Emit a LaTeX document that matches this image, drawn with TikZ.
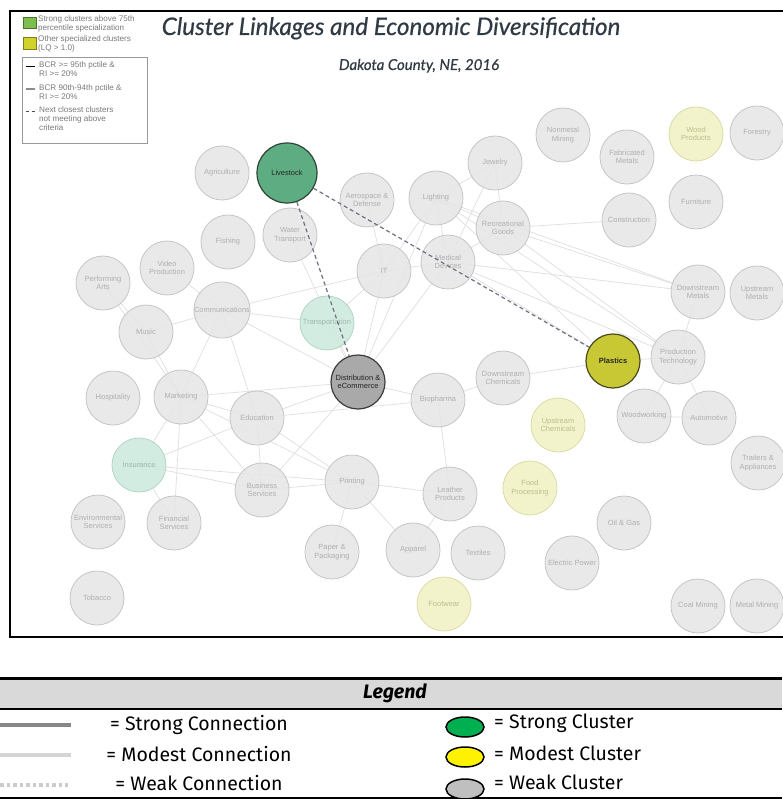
\documentclass[tikz,border=0pt]{standalone}
\usepackage{fontspec}
\setmainfont{Liberation Sans}
\newfontfamily\latofont[FakeBold=0.5]{Lato}
\newfontfamily\firafont{Fira Sans}
\usetikzlibrary{backgrounds,shapes.geometric}
\definecolor{nodegray}{HTML}{E6E6E6}
\definecolor{nodeedge}{HTML}{C6C6C6}
\definecolor{nodetext}{HTML}{AFAFAF}
\definecolor{lgfill}{HTML}{CFEADE}
\definecolor{lgedge}{HTML}{B3D6C5}
\definecolor{lgtext}{HTML}{9AB8AA}
\definecolor{lyfill}{HTML}{F2F2C6}
\definecolor{lyedge}{HTML}{DCDCA4}
\definecolor{lytext}{HTML}{BDBD8E}
\definecolor{livefill}{HTML}{5EAD82}
\definecolor{liveedge}{HTML}{2E4436}
\definecolor{plastfill}{HTML}{C8C834}
\definecolor{plastedge}{HTML}{4A4A1E}
\definecolor{distfill}{HTML}{A9A9A9}
\definecolor{distedge}{HTML}{3C3C3C}
\definecolor{linkgray}{HTML}{DFDFDF}
\definecolor{dashgray}{HTML}{6E7180}
\definecolor{titlecol}{HTML}{2F3A44}
\definecolor{smalltext}{HTML}{7A7A7A}
\definecolor{legband}{HTML}{D9D9D9}
\definecolor{keygreen}{HTML}{7DBE4E}
\definecolor{keyyellow}{HTML}{D2D22C}
\tikzset{
  cl/.style={circle, minimum size=54pt, inner sep=0pt, align=center,
    font=\fontsize{7.5}{8.5}\selectfont, line width=0.8pt, text opacity=1},
  gr/.style={cl, fill=nodegray, draw=nodeedge, text=nodetext, fill opacity=0.85},
  lg/.style={cl, fill=lgfill, draw=lgedge, text=lgtext, fill opacity=0.9},
  ly/.style={cl, fill=lyfill, draw=lyedge, text=lytext, fill opacity=0.9},
  strongnode/.style={cl, line width=1.2pt, text=black!85},
  link/.style={draw=linkgray, line width=0.7pt},
  weaklink/.style={draw=dashgray, line width=1.2pt, dash pattern=on 4pt off 3pt},
  smalltxt/.style={anchor=west, inner sep=0pt, text=smalltext, font=\fontsize{8.1}{9.2}\selectfont},
  legtxt/.style={inner sep=0pt, font=\firafont\fontsize{19.5}{22}\selectfont},
  legell/.style={ellipse, draw=black, line width=1.5pt, minimum width=38pt, minimum height=20pt, inner sep=0pt},
}
\pgfdeclarelayer{background}
\pgfdeclarelayer{canvas}
\pgfsetlayers{canvas,background,main}
\begin{document}
\begin{tikzpicture}[x=1pt, y=-1pt]
\useasboundingbox (0,0) rectangle (782,799);
\begin{pgfonlayer}{canvas}
\fill[white] (0,0) rectangle (782,799);
\end{pgfonlayer}
% frame of the diagram
\draw[line width=1.6pt] (10,11) rectangle (795,637);
% title
\node[anchor=base, inner sep=0pt, text=titlecol, font=\latofont\itshape\fontsize{24.2}{27}\selectfont] (title) at (391,35) {Cluster Linkages and Economic Diversification};
\node[anchor=base, inner sep=0pt, text=titlecol, font=\latofont\itshape\fontsize{15}{17}\selectfont] (subtitle) at (419,70) {Dakota County, NE, 2016};
% top-left key
\node[draw=keygreen!60!black, fill=keygreen, minimum width=13pt, minimum height=11pt, inner sep=0pt] (sqg) at (30,22.5) {};
\node[draw=keyyellow!60!black, fill=keyyellow, minimum width=13pt, minimum height=12pt, inner sep=0pt] (sqy) at (30,43) {};
\node[smalltxt, align=left, anchor=north west] (kg) at (38,15) {Strong clusters above 75th\\percentile specialization};
\node[smalltxt, align=left, anchor=north west] (ky) at (38,35.5) {Other specialized clusters\\(LQ > 1.0)};
\node[draw=black!40, line width=0.6pt, minimum width=125pt, minimum height=86pt, inner sep=0pt] (kbox) at (84.5,100) {};
\coordinate (k1a) at (26,66.5); \coordinate (k1b) at (35,66.5);
\coordinate (k2a) at (26,89); \coordinate (k2b) at (35,89);
\coordinate (k3a) at (26,111.5); \coordinate (k3b) at (36,111.5);
\draw[black, line width=1.2pt] (k1a) -- (k1b);
\draw[black!45, line width=1.2pt] (k2a) -- (k2b);
\draw[black!70, line width=1.1pt, dash pattern=on 3pt off 2.5pt] (k3a) -- (k3b);
\node[smalltxt, align=left, anchor=north west] (kt1) at (39,61.5) {BCR >= 95th pctile \&\\RI >= 20\%};
\node[smalltxt, align=left, anchor=north west] (kt2) at (39,84) {BCR 90th-94th pctile \&\\RI >= 20\%};
\node[smalltxt, align=left, anchor=north west] (kt3) at (39,106.5) {Next closest clusters\\not meeting above\\criteria};
% cluster nodes
\node[gr] (agr) at (222,173) {Agriculture};
\node[strongnode, fill=livefill, draw=liveedge, minimum size=60pt] (live) at (287,173) {Livestock};
\node[gr] (aero) at (367,200) {Aerospace \&\\Defense};
\node[gr] (light) at (436,198) {Lighting};
\node[gr] (jew) at (495,163) {Jewelry};
\node[gr] (nonm) at (563,135) {Nonmetal\\Mining};
\node[gr] (fab) at (627,157) {Fabricated\\Metals};
\node[ly] (woodp) at (696,134) {Wood\\Products};
\node[gr] (forest) at (757,133) {Forestry};
\node[gr] (furn) at (696,202) {Furniture};
\node[gr] (constr) at (629,220) {Construction};
\node[gr] (fish) at (228,242) {Fishing};
\node[gr] (water) at (290,235) {Water\\Transport};
\node[gr] (it) at (384,271) {IT};
\node[gr] (med) at (448,262) {Medical\\Devices};
\node[gr] (rec) at (503,228) {Recreational\\Goods};
\node[gr] (video) at (167,268) {Video\\Production};
\node[gr] (perf) at (103,283) {Performing\\Arts};
\node[gr] (comm) at (222,310) {Communications};
\node[gr] (music) at (146,332) {Music};
\node[lg] (trans) at (327,323) {Transportation};
\node[strongnode, fill=distfill, draw=distedge] (dist) at (358,382) {Distribution \&\\eCommerce};
\node[gr] (bio) at (438,400) {Biopharma};
\node[gr] (dchem) at (503,378) {Downstream\\Chemicals};
\node[ly] (uchem) at (558,425) {Upstream\\Chemicals};
\node[strongnode, fill=plastfill, draw=plastedge, font=\bfseries\fontsize{7.5}{8.5}\selectfont] (plast) at (613,361) {Plastics};
\node[gr] (prod) at (678,357) {Production\\Technology};
\node[gr] (dmet) at (698,292) {Downstream\\Metals};
\node[gr] (umet) at (757,293) {Upstream\\Metals};
\node[gr] (wood) at (644,416) {Woodworking};
\node[gr] (auto) at (709,418) {Automotive};
\node[gr] (trail) at (758,463) {Trailers \&\\Appliances};
\node[gr] (hosp) at (113,398) {Hospitality};
\node[gr] (mkt) at (181,397) {Marketing};
\node[gr] (edu) at (257,418) {Education};
\node[lg] (ins) at (139,465) {Insurance};
\node[gr] (bus) at (262,490) {Business\\Services};
\node[gr] (env) at (98,522) {Environmental\\Services};
\node[gr] (fin) at (174,523) {Financial\\Services};
\node[gr] (tob) at (97,598) {Tobacco};
\node[gr] (print) at (352,482) {Printing};
\node[gr] (paper) at (332,552) {Paper \&\\Packaging};
\node[gr] (app) at (413,550) {Apparel};
\node[gr] (leath) at (450,494) {Leather\\Products};
\node[gr] (textl) at (478,553) {Textiles};
\node[ly] (foot) at (444,604) {Footwear};
\node[ly] (food) at (530,488) {Food\\Processing};
\node[gr] (oil) at (624,523) {Oil \& Gas};
\node[gr] (elec) at (572,563) {Electric Power};
\node[gr] (coal) at (698,606) {Coal Mining};
\node[gr] (metal) at (757,606) {Metal Mining};
% light links
\begin{pgfonlayer}{background}
\foreach \a/\b in {dist/comm, dist/mkt, dist/edu, dist/bus, dist/it, dist/med, dist/light, dist/bio,
  dist/trans, dist/water, bio/dchem, bio/leath, bio/edu, dchem/plast, light/jew, light/rec, light/med,
  light/it, light/dmet, light/prod, jew/rec, jew/med, rec/prod, rec/dmet, rec/med, rec/constr,
  med/prod, med/dmet, med/plast, med/it, prod/wood, prod/auto, prod/dmet, plast/prod, wood/auto,
  comm/music, comm/mkt, comm/edu, comm/it, comm/trans, comm/video, music/perf, music/mkt,
  mkt/edu, mkt/ins, mkt/bus, mkt/fin, mkt/print, edu/bus, edu/ins, edu/print, ins/bus, ins/fin,
  ins/print, bus/print, print/paper, print/app, print/leath, app/leath, perf/mkt, it/trans,
  light/plast, aero/it}
  \draw[link] (\a.center) -- (\b.center);
\end{pgfonlayer}
% weak (dashed) links
\draw[weaklink] (live) -- (plast);
\draw[weaklink] (live) -- (dist);
% legend table
\fill[legband] (0,678) rectangle (782,709);
\draw[line width=3pt] (0,678) -- (782,678);
\draw[line width=2pt] (0,709) -- (782,709);
\draw[line width=1.5pt] (0,798) -- (782,798);
\node[inner sep=0pt, font=\firafont\bfseries\itshape\fontsize{19.5}{22}\selectfont] (legt) at (395,693) {Legend};
\coordinate (l1a) at (0,725); \coordinate (l1b) at (71,725);
\coordinate (l2a) at (0,755); \coordinate (l2b) at (71,755);
\coordinate (l3a) at (0,785); \coordinate (l3b) at (68,785);
\draw[black!47, line width=4pt] (l1a) -- (l1b);
\draw[black!17, line width=4pt] (l2a) -- (l2b);
\draw[black!20, line width=4pt, dash pattern=on 3.5pt off 3pt] (l3a) -- (l3b);
\node[legtxt] (lt1) at (199,725) {= Strong Connection};
\node[legtxt] (lt2) at (199,754) {= Modest Connection};
\node[legtxt] (lt3) at (199,783) {= Weak Connection};
\node[legell, fill={rgb,255:red,0;green,176;blue,80}] (e1) at (465,727) {};
\node[legell, fill=yellow] (e2) at (465,757) {};
\node[legell, fill=black!25] (e3) at (465,789) {};
\node[legtxt, anchor=west] (lt4) at (494,723) {= Strong Cluster};
\node[legtxt, anchor=west] (lt5) at (494,753) {= Modest Cluster};
\node[legtxt, anchor=west] (lt6) at (494,782) {= Weak Cluster};
\end{tikzpicture}
\end{document}
